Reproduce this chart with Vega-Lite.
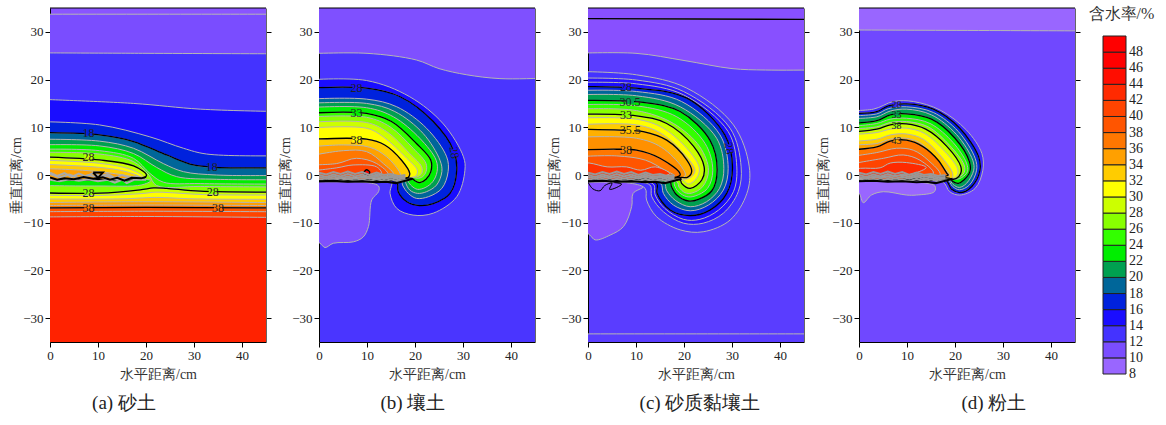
{"$schema":"https://vega.github.io/schema/vega-lite/v6.json","padding":{"left":9,"top":6,"right":0,"bottom":0},"background":"white","config":{"font":"Liberation Serif","axis":{"grid":false,"labelFontSize":13,"labelFont":"Liberation Serif","titleFont":"Liberation Serif","titleFontSize":14,"titleFontWeight":"normal","labelColor":"#222","titleColor":"#333","tickColor":"#000","domainColor":"#000","tickSize":5,"labelFlush":false,"labelOverlap":false,"zindex":1},"axisX":{"titlePadding":5},"axisY":{"titlePadding":-1},"title":{"font":"Liberation Serif","fontSize":19,"fontWeight":"normal","color":"#222","orient":"bottom","anchor":"middle","offset":13}},"resolve":{"scale":{"fill":"independent"}},"spacing":7,"datasets":{
"a":[
{"g":"10","x":-3,"y":33.7},{"g":"10","x":48,"y":33.7},{"g":"10","x":50,"y":33.7},{"g":"10","x":50,"y":-40},{"g":"10","x":-3,"y":-40},
{"g":"12","x":-3,"y":25.6},{"g":"12","x":20,"y":25.5},{"g":"12","x":48,"y":25.4},{"g":"12","x":50,"y":25.4},{"g":"12","x":50,"y":-40},{"g":"12","x":-3,"y":-40},
{"g":"14","x":-3,"y":15.9},{"g":"14","x":17.4,"y":15},{"g":"14","x":31.3,"y":13.8},{"g":"14","x":48,"y":13.3},{"g":"14","x":50,"y":13.3},{"g":"14","x":50,"y":-40},{"g":"14","x":-3,"y":-40},
{"g":"16","x":-3,"y":11.2},{"g":"16","x":10.3,"y":10.5},{"g":"16","x":20.8,"y":8},{"g":"16","x":27.8,"y":5.6},{"g":"16","x":32.6,"y":4.4},{"g":"16","x":48,"y":4},{"g":"16","x":50,"y":4},{"g":"16","x":50,"y":-40},{"g":"16","x":-3,"y":-40},
{"g":"18","x":-3,"y":8.9},{"g":"18","x":10.3,"y":8.4},{"g":"18","x":17.4,"y":7},{"g":"18","x":24.3,"y":4.2},{"g":"18","x":29.9,"y":2.1},{"g":"18","x":34.7,"y":1.6},{"g":"18","x":48,"y":1.5},{"g":"18","x":50,"y":1.5},{"g":"18","x":50,"y":-40},{"g":"18","x":-3,"y":-40},
{"g":"20","x":-3,"y":7.5},{"g":"20","x":10.3,"y":7.1},{"g":"20","x":17.4,"y":5.6},{"g":"20","x":23.6,"y":2.4},{"g":"20","x":27.8,"y":0.7},{"g":"20","x":34.7,"y":0},{"g":"20","x":48,"y":-0.1},{"g":"20","x":50,"y":-0.1},{"g":"20","x":50,"y":-40},{"g":"20","x":-3,"y":-40},
{"g":"22","x":-3,"y":6.3},{"g":"22","x":10.3,"y":6.1},{"g":"22","x":17.4,"y":4.5},{"g":"22","x":22.2,"y":1.6},{"g":"22","x":26.4,"y":-0.35},{"g":"22","x":34.7,"y":-0.9},{"g":"22","x":48,"y":-1},{"g":"22","x":50,"y":-1},{"g":"22","x":50,"y":-40},{"g":"22","x":-3,"y":-40},
{"g":"24","x":-3,"y":5.4},{"g":"24","x":10.3,"y":5.1},{"g":"24","x":17.4,"y":3.5},{"g":"24","x":20.8,"y":0.35},{"g":"24","x":23.6,"y":-1.5},{"g":"24","x":31.3,"y":-1.8},{"g":"24","x":48,"y":-1.9},{"g":"24","x":50,"y":-1.9},{"g":"24","x":50,"y":-40},{"g":"24","x":-3,"y":-40},
{"g":"26","x":-3,"y":4.75},{"g":"26","x":10.3,"y":4.4},{"g":"26","x":17.4,"y":2.8},{"g":"26","x":20.6,"y":0},{"g":"26","x":22.2,"y":-2.2},{"g":"26","x":31.3,"y":-2.4},{"g":"26","x":48,"y":-2.5},{"g":"26","x":50,"y":-2.5},{"g":"26","x":50,"y":-40},{"g":"26","x":-3,"y":-40},
{"g":"28","x":-3,"y":-3.7},{"g":"28","x":10.3,"y":-3.8},{"g":"28","x":18.8,"y":-3.1},{"g":"28","x":21.6,"y":-2.7},{"g":"28","x":24.3,"y":-2.8},{"g":"28","x":31.3,"y":-3.4},{"g":"28","x":48,"y":-3.6},{"g":"28","x":50,"y":-3.6},{"g":"28","x":50,"y":-40},{"g":"28","x":-3,"y":-40},
{"g":"30","x":-3,"y":-4.2},{"g":"30","x":10,"y":-4.3},{"g":"30","x":19,"y":-3.9},{"g":"30","x":22,"y":-3.6},{"g":"30","x":25,"y":-3.7},{"g":"30","x":32,"y":-4.1},{"g":"30","x":48,"y":-4.2},{"g":"30","x":50,"y":-4.2},{"g":"30","x":50,"y":-40},{"g":"30","x":-3,"y":-40},
{"g":"32","x":-3,"y":-5},{"g":"32","x":15,"y":-5},{"g":"32","x":22,"y":-4.7},{"g":"32","x":30,"y":-5},{"g":"32","x":48,"y":-5.1},{"g":"32","x":50,"y":-5.1},{"g":"32","x":50,"y":-40},{"g":"32","x":-3,"y":-40},
{"g":"34","x":-3,"y":-5.8},{"g":"34","x":20,"y":-5.6},{"g":"34","x":48,"y":-5.8},{"g":"34","x":50,"y":-5.8},{"g":"34","x":50,"y":-40},{"g":"34","x":-3,"y":-40},
{"g":"36","x":-3,"y":-6.4},{"g":"36","x":20,"y":-6.3},{"g":"36","x":48,"y":-6.4},{"g":"36","x":50,"y":-6.4},{"g":"36","x":50,"y":-40},{"g":"36","x":-3,"y":-40},
{"g":"38","x":-3,"y":-6.9},{"g":"38","x":20,"y":-6.8},{"g":"38","x":48,"y":-6.9},{"g":"38","x":50,"y":-6.9},{"g":"38","x":50,"y":-40},{"g":"38","x":-3,"y":-40},
{"g":"40","x":-3,"y":-7.7},{"g":"40","x":20,"y":-7.6},{"g":"40","x":48,"y":-7.7},{"g":"40","x":50,"y":-7.7},{"g":"40","x":50,"y":-40},{"g":"40","x":-3,"y":-40},
{"g":"42","x":-3,"y":-8.8},{"g":"42","x":20,"y":-8.7},{"g":"42","x":48,"y":-8.9},{"g":"42","x":50,"y":-8.9},{"g":"42","x":50,"y":-40},{"g":"42","x":-3,"y":-40},
{"g":"22b","x":-3,"y":-0.8},{"g":"22b","x":10,"y":-0.9},{"g":"22b","x":19,"y":-0.8},{"g":"22b","x":21,"y":-1.2},{"g":"22b","x":19,"y":-2.1},{"g":"22b","x":10,"y":-2.3},{"g":"22b","x":-3,"y":-2.2},
{"g":"28b","x":-3,"y":3.85},{"g":"28b","x":10.3,"y":3.15},{"g":"28b","x":17.4,"y":1.9},{"g":"28b","x":20.1,"y":0},{"g":"28b","x":19.4,"y":-0.7},{"g":"28b","x":10,"y":-1},{"g":"28b","x":-3,"y":-1},
{"g":"30b","x":-3,"y":3.15},{"g":"30b","x":10.3,"y":2.45},{"g":"30b","x":16.7,"y":1.2},{"g":"30b","x":19.4,"y":-0.35},{"g":"30b","x":18.5,"y":-0.8},{"g":"30b","x":-3,"y":-0.9},
{"g":"32b","x":-3,"y":2.3},{"g":"32b","x":10.3,"y":1.6},{"g":"32b","x":15.9,"y":0.7},{"g":"32b","x":18.8,"y":-0.5},{"g":"32b","x":17,"y":-0.8},{"g":"32b","x":-3,"y":-0.9},
{"g":"34b","x":-3,"y":1.4},{"g":"34b","x":6.8,"y":1},{"g":"34b","x":13,"y":0.35},{"g":"34b","x":17.4,"y":-0.5},{"g":"34b","x":15,"y":-0.8},{"g":"34b","x":-3,"y":-0.9}],
"na":[
{"g":"n1","x":0,"y":0.5},{"g":"n1","x":1.5,"y":-0.2},{"g":"n1","x":3,"y":0.4},{"g":"n1","x":4.5,"y":-0.4},{"g":"n1","x":6,"y":0.3},{"g":"n1","x":7.5,"y":-0.3},{"g":"n1","x":9,"y":0.4},{"g":"n1","x":10.5,"y":-0.2},{"g":"n1","x":12,"y":0.2},{"g":"n1","x":13.5,"y":-0.6},{"g":"n1","x":15,"y":0},{"g":"n1","x":16.5,"y":-0.5},{"g":"n1","x":18,"y":-0.3},{"g":"n1","x":19.5,"y":-0.6},
{"g":"n3","x":0,"y":-1},{"g":"n3","x":2,"y":-1.3},{"g":"n3","x":4,"y":-0.9},{"g":"n3","x":6,"y":-1.2},{"g":"n3","x":8,"y":-0.9},{"g":"n3","x":10,"y":-1.3},{"g":"n3","x":12,"y":-1},{"g":"n3","x":13.5,"y":-1.6},{"g":"n3","x":15,"y":-1},{"g":"n3","x":16,"y":-1.7},{"g":"n3","x":17.5,"y":-1},{"g":"n3","x":20,"y":-1},
{"g":"n4","x":0,"y":0.2},{"g":"n4","x":2,"y":-0.5},{"g":"n4","x":4,"y":0.1},{"g":"n4","x":6,"y":-0.6},{"g":"n4","x":8,"y":0},{"g":"n4","x":10,"y":-0.5},{"g":"n4","x":12,"y":-0.2},{"g":"n4","x":14,"y":-1},{"g":"n4","x":16,"y":-0.8},{"g":"n4","x":18,"y":-0.6},
{"g":"k1","x":0,"y":-0.5},{"g":"k1","x":1.5,"y":-1},{"g":"k1","x":3,"y":-0.7},{"g":"k1","x":5,"y":-0.9},{"g":"k1","x":7,"y":-0.4},{"g":"k1","x":9,"y":-0.8},{"g":"k1","x":11,"y":-0.5},{"g":"k1","x":12.5,"y":-1},{"g":"k1","x":14,"y":-0.6},{"g":"k1","x":15.5,"y":-1.2},{"g":"k1","x":17,"y":-0.6},{"g":"k1","x":19,"y":-0.7},{"g":"k1","x":20,"y":-0.4},
{"g":"k2","x":9,"y":0.5},{"g":"k2","x":11,"y":0.5},{"g":"k2","x":10,"y":-0.6},{"g":"k2","x":9,"y":0.5}],
"n":[
{"g":"n1","x":0,"y":0.5},{"g":"n1","x":1.5,"y":0.1},{"g":"n1","x":3,"y":0.6},{"g":"n1","x":4.5,"y":0.2},{"g":"n1","x":6,"y":0.7},{"g":"n1","x":7.5,"y":0.2},{"g":"n1","x":9,"y":0.6},{"g":"n1","x":10.5,"y":0},{"g":"n1","x":12,"y":0.5},{"g":"n1","x":13.5,"y":0},{"g":"n1","x":15,"y":0.2},{"g":"n1","x":16.5,"y":-0.2},{"g":"n1","x":18,"y":0},
{"g":"n2","x":0,"y":0},{"g":"n2","x":1.5,"y":-0.4},{"g":"n2","x":3,"y":0.1},{"g":"n2","x":4.5,"y":-0.3},{"g":"n2","x":6,"y":0.2},{"g":"n2","x":7.5,"y":-0.3},{"g":"n2","x":9,"y":0.1},{"g":"n2","x":10.5,"y":-0.4},{"g":"n2","x":12,"y":0.1},{"g":"n2","x":13.5,"y":-0.4},{"g":"n2","x":15,"y":-0.2},{"g":"n2","x":16.5,"y":-0.5},{"g":"n2","x":18,"y":-0.4},
{"g":"n3","x":0,"y":-0.4},{"g":"n3","x":1.5,"y":-0.8},{"g":"n3","x":3,"y":-0.3},{"g":"n3","x":4.5,"y":-0.7},{"g":"n3","x":6,"y":-0.3},{"g":"n3","x":7.5,"y":-0.8},{"g":"n3","x":9,"y":-0.4},{"g":"n3","x":10.5,"y":-0.8},{"g":"n3","x":12,"y":-0.3},{"g":"n3","x":13.5,"y":-0.9},{"g":"n3","x":15,"y":-0.5},{"g":"n3","x":16.5,"y":-0.9},{"g":"n3","x":18,"y":-0.7},
{"g":"n4","x":0,"y":-0.9},{"g":"n4","x":1.5,"y":-1.2},{"g":"n4","x":3,"y":-0.8},{"g":"n4","x":4.5,"y":-1.2},{"g":"n4","x":6,"y":-0.8},{"g":"n4","x":7.5,"y":-1.2},{"g":"n4","x":9,"y":-0.9},{"g":"n4","x":10.5,"y":-1.3},{"g":"n4","x":12,"y":-0.8},{"g":"n4","x":13.5,"y":-1.3},{"g":"n4","x":15,"y":-0.9},{"g":"n4","x":16.5,"y":-1.3},{"g":"n4","x":19,"y":-1},
{"g":"k1","x":0,"y":-1.3},{"g":"k1","x":3,"y":-1.2},{"g":"k1","x":6,"y":-1.4},{"g":"k1","x":9,"y":-1.3},{"g":"k1","x":12,"y":-1.5},{"g":"k1","x":14,"y":-1.4},{"g":"k1","x":16,"y":-1.7},{"g":"k1","x":18,"y":-1.2},{"g":"k1","x":19.5,"y":-0.8}],
"b":[
{"g":"t","x":-3,"y":25.4},{"g":"t","x":10,"y":25.5},{"g":"t","x":20.3,"y":24.1},{"g":"t","x":25,"y":22.3},{"g":"t","x":30.8,"y":21},{"g":"t","x":37.7,"y":20.2},{"g":"t","x":48,"y":20.3},{"g":"t","x":50,"y":20.3},{"g":"t","x":50,"y":40},{"g":"t","x":-3,"y":40},
{"g":"p","x":-3,"y":-1.2},{"g":"p","x":8.5,"y":-1.4},{"g":"p","x":12.4,"y":-2.3},{"g":"p","x":12.4,"y":-3.5},{"g":"p","x":11,"y":-5.2},{"g":"p","x":10.3,"y":-10.8},{"g":"p","x":9.2,"y":-13},{"g":"p","x":7.2,"y":-14},{"g":"p","x":3,"y":-14.3},{"g":"p","x":1.25,"y":-15.2},{"g":"p","x":0.2,"y":-14.3},{"g":"p","x":-3,"y":-13},
{"g":"14","x":-3,"y":19.9},{"g":"14","x":9.9,"y":19.8},{"g":"14","x":18.9,"y":16.4},{"g":"14","x":25.9,"y":10.7},{"g":"14","x":30.1,"y":3.8},{"g":"14","x":30.4,"y":1},{"g":"14","x":28.7,"y":-4.55},{"g":"14","x":23.8,"y":-8},{"g":"14","x":19.6,"y":-8.4},{"g":"14","x":16.2,"y":-7},{"g":"14","x":14.8,"y":-3.85},{"g":"14","x":15.1,"y":-1.4},{"g":"14","x":12,"y":-1.4},{"g":"14","x":-3,"y":-1.4},
{"g":"16","x":-3,"y":18.2},{"g":"16","x":9.9,"y":18.2},{"g":"16","x":16.9,"y":16.4},{"g":"16","x":23.8,"y":11.2},{"g":"16","x":28,"y":5.2},{"g":"16","x":28.7,"y":1},{"g":"16","x":27.3,"y":-3.85},{"g":"16","x":23.8,"y":-6},{"g":"16","x":21,"y":-6.4},{"g":"16","x":18.3,"y":-5.6},{"g":"16","x":16.5,"y":-3.5},{"g":"16","x":16.2,"y":-1.4},{"g":"16","x":12,"y":-1.4},{"g":"16","x":-3,"y":-1.4},
{"g":"18","x":-3,"y":15.9},{"g":"18","x":9.9,"y":15.9},{"g":"18","x":16.2,"y":14.3},{"g":"18","x":22.4,"y":9.8},{"g":"18","x":26.6,"y":3.8},{"g":"18","x":26.9,"y":0.7},{"g":"18","x":25.6,"y":-2.8},{"g":"18","x":22.8,"y":-4.55},{"g":"18","x":20.3,"y":-4.9},{"g":"18","x":18.6,"y":-3.85},{"g":"18","x":17.4,"y":-2.1},{"g":"18","x":17.2,"y":-1.2},{"g":"18","x":12,"y":-1.3},{"g":"18","x":-3,"y":-1.3},
{"g":"20","x":-3,"y":15},{"g":"20","x":9.9,"y":15},{"g":"20","x":15.8,"y":13.3},{"g":"20","x":21.7,"y":8.7},{"g":"20","x":25.2,"y":3.1},{"g":"20","x":25.6,"y":0.7},{"g":"20","x":24.5,"y":-2.1},{"g":"20","x":22.4,"y":-3.5},{"g":"20","x":20.5,"y":-3.85},{"g":"20","x":18.9,"y":-3.15},{"g":"20","x":18.1,"y":-1.75},{"g":"20","x":17.9,"y":-1.05},{"g":"20","x":12,"y":-1.2},{"g":"20","x":-3,"y":-1.2},
{"g":"22","x":-3,"y":14.1},{"g":"22","x":9.9,"y":14.1},{"g":"22","x":15.5,"y":12.2},{"g":"22","x":21,"y":7.7},{"g":"22","x":24.4,"y":3.1},{"g":"22","x":24.6,"y":0.7},{"g":"22","x":23.7,"y":-1.4},{"g":"22","x":22.1,"y":-2.65},{"g":"22","x":20.5,"y":-3},{"g":"22","x":19.3,"y":-2.3},{"g":"22","x":18.6,"y":-1.4},{"g":"22","x":18.5,"y":-0.9},{"g":"22","x":12,"y":-1.1},{"g":"22","x":-3,"y":-1.1},
{"g":"24","x":-3,"y":12.9},{"g":"24","x":9.9,"y":12.9},{"g":"24","x":15.1,"y":11.2},{"g":"24","x":20.3,"y":6.6},{"g":"24","x":23.3,"y":3.1},{"g":"24","x":23.3,"y":0.7},{"g":"24","x":22.3,"y":-0.9},{"g":"24","x":21,"y":-1.6},{"g":"24","x":20,"y":-1.2},{"g":"24","x":19.3,"y":-0.7},{"g":"24","x":12,"y":-1},{"g":"24","x":-3,"y":-1},
{"g":"26","x":-3,"y":12.1},{"g":"26","x":9.9,"y":12.1},{"g":"26","x":14.8,"y":10.1},{"g":"26","x":19.6,"y":5.6},{"g":"26","x":22.3,"y":2.4},{"g":"26","x":22.3,"y":0.7},{"g":"26","x":21.6,"y":-0.35},{"g":"26","x":20.5,"y":-0.7},{"g":"26","x":19.6,"y":-0.5},{"g":"26","x":12,"y":-1},{"g":"26","x":-3,"y":-1},
{"g":"28","x":-3,"y":11},{"g":"28","x":9.9,"y":11},{"g":"28","x":14.1,"y":9.1},{"g":"28","x":18.9,"y":4.5},{"g":"28","x":21.4,"y":1.7},{"g":"28","x":21.4,"y":0.35},{"g":"28","x":20.5,"y":-0.35},{"g":"28","x":19.6,"y":-0.35},{"g":"28","x":12,"y":-1},{"g":"28","x":-3,"y":-1},
{"g":"30","x":-3,"y":9.8},{"g":"30","x":9.9,"y":9.8},{"g":"30","x":13.4,"y":8},{"g":"30","x":18.3,"y":3.5},{"g":"30","x":20.5,"y":1},{"g":"30","x":20.2,"y":-0.2},{"g":"30","x":19.3,"y":-0.5},{"g":"30","x":12,"y":-1},{"g":"30","x":-3,"y":-1},
{"g":"32","x":-3,"y":7.4},{"g":"32","x":9.9,"y":7.5},{"g":"32","x":13.7,"y":6.3},{"g":"32","x":17.2,"y":3.1},{"g":"32","x":18.9,"y":0.35},{"g":"32","x":18.6,"y":-0.5},{"g":"32","x":12,"y":-1},{"g":"32","x":-3,"y":-1},
{"g":"34","x":-3,"y":5.8},{"g":"34","x":5.1,"y":6.3},{"g":"34","x":10.6,"y":5.8},{"g":"34","x":14.1,"y":3.8},{"g":"34","x":16.9,"y":0.35},{"g":"34","x":16.9,"y":-0.35},{"g":"34","x":-3,"y":-1},
{"g":"36","x":-3,"y":3.8},{"g":"36","x":5.1,"y":5.1},{"g":"36","x":9.9,"y":4.9},{"g":"36","x":13.4,"y":2.4},{"g":"36","x":15.5,"y":0},{"g":"36","x":-3,"y":-1},
{"g":"38","x":-3,"y":2.1},{"g":"38","x":3.7,"y":2.4},{"g":"38","x":7.8,"y":3.5},{"g":"38","x":12,"y":2.4},{"g":"38","x":14.4,"y":0},{"g":"38","x":-3,"y":-1},
{"g":"40","x":-3,"y":0.7},{"g":"40","x":3.7,"y":1.5},{"g":"40","x":7.1,"y":2.1},{"g":"40","x":12,"y":1.7},{"g":"40","x":13,"y":0.35},{"g":"40","x":8,"y":-0.5},{"g":"40","x":-3,"y":-1},
{"g":"46","x":9.3,"y":0.5},{"g":"46","x":9.9,"y":1.1},{"g":"46","x":10.6,"y":0.5},{"g":"46","x":9.9,"y":-0.1},{"g":"46","x":9.3,"y":0.5}],
"c":[
{"g":"t","x":-3,"y":25.5},{"g":"t","x":10,"y":25.5},{"g":"t","x":20,"y":24},{"g":"t","x":30,"y":22.3},{"g":"t","x":37,"y":22},{"g":"t","x":48,"y":22},{"g":"t","x":50,"y":22},{"g":"t","x":50,"y":40},{"g":"t","x":-3,"y":40},
{"g":"kt","x":-3,"y":32.8},{"g":"kt","x":48,"y":32.6},{"g":"kt","x":50,"y":32.6},{"g":"kt","x":50,"y":40},{"g":"kt","x":-3,"y":40},
{"g":"gb","x":-3,"y":-33.3},{"g":"gb","x":48,"y":-33.3},{"g":"gb","x":50,"y":-33.3},{"g":"gb","x":50,"y":-40},{"g":"gb","x":-3,"y":-40},
{"g":"p","x":-3,"y":-1.2},{"g":"p","x":8,"y":-1.4},{"g":"p","x":11.5,"y":-2.45},{"g":"p","x":9.4,"y":-3.85},{"g":"p","x":9.1,"y":-6.6},{"g":"p","x":7.4,"y":-10.8},{"g":"p","x":4.6,"y":-12.6},{"g":"p","x":1.5,"y":-13.6},{"g":"p","x":0.4,"y":-12.6},{"g":"p","x":-3,"y":-10},
{"g":"12","x":-3,"y":21.7},{"g":"12","x":10.1,"y":21},{"g":"12","x":20.6,"y":18.2},{"g":"12","x":30.3,"y":10.5},{"g":"12","x":33.6,"y":1.7},{"g":"12","x":33.1,"y":-3.85},{"g":"12","x":29.6,"y":-9.45},{"g":"12","x":24,"y":-11.9},{"g":"12","x":19.2,"y":-11.5},{"g":"12","x":14.3,"y":-8.75},{"g":"12","x":12.2,"y":-5.25},{"g":"12","x":11.9,"y":-2.8},{"g":"12","x":8,"y":-1.6},{"g":"12","x":-3,"y":-1.5},
{"g":"14","x":-3,"y":20.3},{"g":"14","x":10.1,"y":19.9},{"g":"14","x":19.9,"y":17.5},{"g":"14","x":29.6,"y":9.8},{"g":"14","x":31.9,"y":1.7},{"g":"14","x":31.3,"y":-3.5},{"g":"14","x":28.2,"y":-8},{"g":"14","x":24,"y":-10.1},{"g":"14","x":19.9,"y":-10.1},{"g":"14","x":15.7,"y":-7.7},{"g":"14","x":13.3,"y":-4.55},{"g":"14","x":12.9,"y":-2.1},{"g":"14","x":8,"y":-1.5},{"g":"14","x":-3,"y":-1.5},
{"g":"15","x":-3,"y":19.4},{"g":"15","x":10.1,"y":19.1},{"g":"15","x":19.9,"y":16.8},{"g":"15","x":29.2,"y":9.1},{"g":"15","x":31,"y":1.7},{"g":"15","x":30.3,"y":-3.5},{"g":"15","x":27.2,"y":-7.35},{"g":"15","x":23.3,"y":-9.3},{"g":"15","x":19.9,"y":-9.3},{"g":"15","x":16,"y":-7},{"g":"15","x":14,"y":-4.2},{"g":"15","x":13.6,"y":-1.9},{"g":"15","x":8,"y":-1.5},{"g":"15","x":-3,"y":-1.5},
{"g":"16","x":-3,"y":18.5},{"g":"16","x":10.1,"y":18.2},{"g":"16","x":20.6,"y":16.1},{"g":"16","x":28.5,"y":8.4},{"g":"16","x":30.1,"y":1.7},{"g":"16","x":28.9,"y":-3.85},{"g":"16","x":25.4,"y":-7.35},{"g":"16","x":21.3,"y":-8.5},{"g":"16","x":17.1,"y":-7.35},{"g":"16","x":14.4,"y":-3.85},{"g":"16","x":14.3,"y":-1.75},{"g":"16","x":8,"y":-1.4},{"g":"16","x":-3,"y":-1.4},
{"g":"18","x":-3,"y":17.7},{"g":"18","x":10.1,"y":17.5},{"g":"18","x":19.5,"y":15.4},{"g":"18","x":27.5,"y":8.4},{"g":"18","x":29.2,"y":1.4},{"g":"18","x":28.2,"y":-3.15},{"g":"18","x":25.1,"y":-6.3},{"g":"18","x":21.3,"y":-7.5},{"g":"18","x":17.8,"y":-6.3},{"g":"18","x":15.7,"y":-3.85},{"g":"18","x":15.1,"y":-1.75},{"g":"18","x":8,"y":-1.4},{"g":"18","x":-3,"y":-1.4},
{"g":"20","x":-3,"y":16.8},{"g":"20","x":10.1,"y":16.6},{"g":"20","x":19.2,"y":14.3},{"g":"20","x":26.8,"y":7.7},{"g":"20","x":28.3,"y":1.4},{"g":"20","x":27.4,"y":-2.8},{"g":"20","x":24.7,"y":-5.6},{"g":"20","x":21.3,"y":-6.65},{"g":"20","x":18.3,"y":-5.4},{"g":"20","x":16.4,"y":-3.3},{"g":"20","x":15.8,"y":-1.6},{"g":"20","x":8,"y":-1.3},{"g":"20","x":-3,"y":-1.3},
{"g":"22","x":-3,"y":15.6},{"g":"22","x":11.5,"y":15.2},{"g":"22","x":19.2,"y":13.3},{"g":"22","x":25.4,"y":7.3},{"g":"22","x":26.9,"y":1},{"g":"22","x":25.8,"y":-3.3},{"g":"22","x":23,"y":-5.1},{"g":"22","x":20.9,"y":-5.45},{"g":"22","x":18.5,"y":-4.2},{"g":"22","x":17.4,"y":-2.45},{"g":"22","x":17,"y":-1.2},{"g":"22","x":8,"y":-1.2},{"g":"22","x":-3,"y":-1.2},
{"g":"24","x":-3,"y":14.7},{"g":"24","x":10.1,"y":14.5},{"g":"24","x":18.5,"y":12.2},{"g":"24","x":24.4,"y":6.6},{"g":"24","x":26,"y":1},{"g":"24","x":24.9,"y":-2.8},{"g":"24","x":22.3,"y":-4.4},{"g":"24","x":20.6,"y":-4.55},{"g":"24","x":18.8,"y":-3.5},{"g":"24","x":18,"y":-2.1},{"g":"24","x":17.8,"y":-1.05},{"g":"24","x":8,"y":-1.1},{"g":"24","x":-3,"y":-1.1},
{"g":"26","x":-3,"y":13.8},{"g":"26","x":10.1,"y":13.5},{"g":"26","x":17.8,"y":10.8},{"g":"26","x":23.3,"y":5.9},{"g":"26","x":25.1,"y":1},{"g":"26","x":23.9,"y":-2.45},{"g":"26","x":21.6,"y":-3.8},{"g":"26","x":20.2,"y":-3.7},{"g":"26","x":19,"y":-2.6},{"g":"26","x":18.5,"y":-1.4},{"g":"26","x":8,"y":-1},{"g":"26","x":-3,"y":-1},
{"g":"28","x":-3,"y":12.7},{"g":"28","x":10.1,"y":12.4},{"g":"28","x":16.4,"y":10.8},{"g":"28","x":22,"y":6},{"g":"28","x":24.2,"y":1.7},{"g":"28","x":23.7,"y":-1.05},{"g":"28","x":21.3,"y":-2.8},{"g":"28","x":19.5,"y":-1.75},{"g":"28","x":19.2,"y":-1.05},{"g":"28","x":8,"y":-1},{"g":"28","x":-3,"y":-1},
{"g":"30","x":-3,"y":11.9},{"g":"30","x":10.1,"y":11.7},{"g":"30","x":15.7,"y":9.8},{"g":"30","x":21.1,"y":5},{"g":"30","x":23.2,"y":1.4},{"g":"30","x":22.6,"y":-0.7},{"g":"30","x":20.9,"y":-1.9},{"g":"30","x":19.7,"y":-1.05},{"g":"30","x":8,"y":-1},{"g":"30","x":-3,"y":-1},
{"g":"32","x":-3,"y":10.5},{"g":"32","x":10.1,"y":10.5},{"g":"32","x":15.3,"y":8.7},{"g":"32","x":20.2,"y":4.2},{"g":"32","x":22.3,"y":1},{"g":"32","x":21.6,"y":-0.35},{"g":"32","x":20.2,"y":-0.9},{"g":"32","x":19.2,"y":-0.7},{"g":"32","x":8,"y":-1},{"g":"32","x":-3,"y":-1},
{"g":"34","x":-3,"y":9.6},{"g":"34","x":6.7,"y":9.4},{"g":"34","x":11.5,"y":9.1},{"g":"34","x":16.4,"y":7.3},{"g":"34","x":20.6,"y":3.1},{"g":"34","x":21.6,"y":0.7},{"g":"34","x":20.7,"y":-0.5},{"g":"34","x":19.5,"y":-0.5},{"g":"34","x":8,"y":-1},{"g":"34","x":-3,"y":-1},
{"g":"36","x":-3,"y":7.9},{"g":"36","x":10.1,"y":7.7},{"g":"36","x":15.3,"y":5.8},{"g":"36","x":19.5,"y":1.7},{"g":"36","x":20.2,"y":-0.2},{"g":"36","x":8,"y":-1},{"g":"36","x":-3,"y":-1},
{"g":"38","x":-3,"y":5.2},{"g":"38","x":6,"y":5.4},{"g":"38","x":10.1,"y":5.2},{"g":"38","x":15,"y":3.5},{"g":"38","x":19.2,"y":0},{"g":"38","x":8,"y":-1},{"g":"38","x":-3,"y":-1},
{"g":"39","x":-3,"y":3.8},{"g":"39","x":6,"y":4},{"g":"39","x":12,"y":3.1},{"g":"39","x":16,"y":1},{"g":"39","x":18,"y":-0.2},{"g":"39","x":8,"y":-1},{"g":"39","x":-3,"y":-1},
{"g":"40","x":-3,"y":2.5},{"g":"40","x":0.3,"y":2.5},{"g":"40","x":4,"y":1.7},{"g":"40","x":8,"y":1.7},{"g":"40","x":11,"y":1},{"g":"40","x":14,"y":1.7},{"g":"40","x":17,"y":0.3},{"g":"40","x":8,"y":-1},{"g":"40","x":-3,"y":-1}],
"d":[
{"g":"t","x":-3,"y":30.4},{"g":"t","x":48,"y":30.2},{"g":"t","x":50,"y":30.2},{"g":"t","x":50,"y":40},{"g":"t","x":-3,"y":40},
{"g":"p","x":-3,"y":-1},{"g":"p","x":8,"y":-1.2},{"g":"p","x":15.8,"y":-2.3},{"g":"p","x":15.7,"y":-3.5},{"g":"p","x":12,"y":-4.2},{"g":"p","x":9.9,"y":-4.2},{"g":"p","x":5.1,"y":-3.5},{"g":"p","x":2.6,"y":-4.2},{"g":"p","x":0.9,"y":-5.8},{"g":"p","x":0,"y":-3.8},{"g":"p","x":-3,"y":-2},
{"g":"14","x":-3,"y":13.5},{"g":"14","x":3,"y":13.8},{"g":"14","x":7.2,"y":15.4},{"g":"14","x":11.3,"y":15.4},{"g":"14","x":16.9,"y":13.6},{"g":"14","x":22.4,"y":9.4},{"g":"14","x":25.6,"y":4.5},{"g":"14","x":25.8,"y":1},{"g":"14","x":24.2,"y":-2.8},{"g":"14","x":21,"y":-4.2},{"g":"14","x":18.9,"y":-3.5},{"g":"14","x":17.4,"y":-1.4},{"g":"14","x":8,"y":-1},{"g":"14","x":-3,"y":-1},
{"g":"16","x":-3,"y":12.9},{"g":"16","x":3.7,"y":13.3},{"g":"16","x":6.1,"y":14.5},{"g":"16","x":9.9,"y":14.9},{"g":"16","x":15.5,"y":13.8},{"g":"16","x":21,"y":9.8},{"g":"16","x":24.9,"y":3.9},{"g":"16","x":25.2,"y":1},{"g":"16","x":23.5,"y":-2.4},{"g":"16","x":21,"y":-3.7},{"g":"16","x":19.3,"y":-3},{"g":"16","x":17.9,"y":-0.9},{"g":"16","x":8,"y":-1},{"g":"16","x":-3,"y":-1},
{"g":"18","x":-3,"y":12.4},{"g":"18","x":3.7,"y":12.8},{"g":"18","x":6.1,"y":13.9},{"g":"18","x":9.9,"y":14.3},{"g":"18","x":15.5,"y":13.1},{"g":"18","x":20.7,"y":9.1},{"g":"18","x":24.2,"y":3.5},{"g":"18","x":24.5,"y":1},{"g":"18","x":23,"y":-2.1},{"g":"18","x":20.9,"y":-3.1},{"g":"18","x":19.5,"y":-2.4},{"g":"18","x":18.3,"y":-0.9},{"g":"18","x":8,"y":-1},{"g":"18","x":-3,"y":-1},
{"g":"20","x":-3,"y":11.8},{"g":"20","x":3.7,"y":12.2},{"g":"20","x":6.5,"y":13.4},{"g":"20","x":9.9,"y":13.8},{"g":"20","x":15.1,"y":12.6},{"g":"20","x":20.3,"y":8.5},{"g":"20","x":23.7,"y":3.1},{"g":"20","x":23.9,"y":1},{"g":"20","x":22.4,"y":-1.75},{"g":"20","x":20.9,"y":-2.6},{"g":"20","x":19.6,"y":-2},{"g":"20","x":18.6,"y":-0.85},{"g":"20","x":8,"y":-1},{"g":"20","x":-3,"y":-1},
{"g":"22","x":-3,"y":10.8},{"g":"22","x":3.7,"y":11.4},{"g":"22","x":6.5,"y":12.6},{"g":"22","x":9.9,"y":12.8},{"g":"22","x":15.1,"y":11.7},{"g":"22","x":20,"y":7.7},{"g":"22","x":23,"y":2.8},{"g":"22","x":23.1,"y":0.7},{"g":"22","x":21.9,"y":-1},{"g":"22","x":20.7,"y":-1.75},{"g":"22","x":19.6,"y":-1.4},{"g":"22","x":18.9,"y":-0.7},{"g":"22","x":8,"y":-1},{"g":"22","x":-3,"y":-1},
{"g":"24","x":-3,"y":10.1},{"g":"24","x":3.7,"y":10.8},{"g":"24","x":6.5,"y":11.7},{"g":"24","x":9.9,"y":11.9},{"g":"24","x":14.8,"y":10.8},{"g":"24","x":19.6,"y":6.8},{"g":"24","x":22.4,"y":2.5},{"g":"24","x":22.6,"y":0.7},{"g":"24","x":21.4,"y":-0.55},{"g":"24","x":20.3,"y":-0.9},{"g":"24","x":19.3,"y":-0.7},{"g":"24","x":8,"y":-1},{"g":"24","x":-3,"y":-1},
{"g":"26","x":-3,"y":9.6},{"g":"26","x":3.7,"y":10.1},{"g":"26","x":6.5,"y":11},{"g":"26","x":9.9,"y":11.2},{"g":"26","x":14.4,"y":10.1},{"g":"26","x":18.9,"y":6.2},{"g":"26","x":21.9,"y":2.1},{"g":"26","x":21.9,"y":0.5},{"g":"26","x":20.9,"y":-0.35},{"g":"26","x":19.6,"y":-0.5},{"g":"26","x":8,"y":-1},{"g":"26","x":-3,"y":-1},
{"g":"28","x":-3,"y":8.9},{"g":"28","x":3.7,"y":9.6},{"g":"28","x":6.5,"y":10.5},{"g":"28","x":9.9,"y":10.7},{"g":"28","x":13.9,"y":9.6},{"g":"28","x":18.3,"y":6},{"g":"28","x":21.2,"y":1.8},{"g":"28","x":21.2,"y":0.35},{"g":"28","x":20.3,"y":-0.7},{"g":"28","x":8,"y":-1},{"g":"28","x":-3,"y":-1},
{"g":"30","x":-3,"y":8.4},{"g":"30","x":3.7,"y":8.9},{"g":"30","x":6.5,"y":9.6},{"g":"30","x":9.9,"y":9.8},{"g":"30","x":13.7,"y":8.7},{"g":"30","x":17.9,"y":4.9},{"g":"30","x":20.5,"y":1.4},{"g":"30","x":20.5,"y":0},{"g":"30","x":19.6,"y":-0.7},{"g":"30","x":8,"y":-1},{"g":"30","x":-3,"y":-1},
{"g":"32","x":-3,"y":7},{"g":"32","x":3.7,"y":7.5},{"g":"32","x":6.5,"y":8.4},{"g":"32","x":9.9,"y":8.6},{"g":"32","x":13.4,"y":7.5},{"g":"32","x":17.2,"y":3.8},{"g":"32","x":19.5,"y":0.35},{"g":"32","x":19.3,"y":-0.7},{"g":"32","x":8,"y":-1},{"g":"32","x":-3,"y":-1},
{"g":"34","x":-3,"y":6.3},{"g":"34","x":3.7,"y":6.6},{"g":"34","x":6.5,"y":7.5},{"g":"34","x":9.9,"y":7.7},{"g":"34","x":13.1,"y":6.5},{"g":"34","x":16.5,"y":2.8},{"g":"34","x":18.8,"y":-0.3},{"g":"34","x":8,"y":-1},{"g":"34","x":-3,"y":-1},
{"g":"36","x":-3,"y":5.2},{"g":"36","x":3.7,"y":5.9},{"g":"36","x":6.5,"y":7.1},{"g":"36","x":9.9,"y":7.3},{"g":"36","x":13.4,"y":5.9},{"g":"36","x":16.5,"y":3.1},{"g":"36","x":18.3,"y":0.35},{"g":"36","x":18.6,"y":0},{"g":"36","x":8,"y":-1},{"g":"36","x":-3,"y":-1},
{"g":"38","x":-3,"y":3.7},{"g":"38","x":3.7,"y":4.7},{"g":"38","x":7.8,"y":5.6},{"g":"38","x":11.3,"y":5.2},{"g":"38","x":14.4,"y":3.1},{"g":"38","x":16.9,"y":0},{"g":"38","x":8,"y":-1},{"g":"38","x":-3,"y":-1},
{"g":"40","x":-3,"y":2.1},{"g":"40","x":5.1,"y":3.5},{"g":"40","x":9.2,"y":4.2},{"g":"40","x":12.7,"y":3.1},{"g":"40","x":15.5,"y":0.35},{"g":"40","x":8,"y":-1},{"g":"40","x":-3,"y":-1},
{"g":"42","x":-3,"y":0.8},{"g":"42","x":0.3,"y":1.4},{"g":"42","x":4.4,"y":1.5},{"g":"42","x":6.5,"y":2.5},{"g":"42","x":9.9,"y":2.6},{"g":"42","x":14,"y":1.6},{"g":"42","x":11.3,"y":0.3},{"g":"42","x":5.1,"y":-0.3},{"g":"42","x":-3,"y":-1}]
},
"hconcat":[{"spacing":6,"resolve":{"scale":{"fill":"independent"}},"hconcat":[
{"width":216,"height":334,"view":{"fill":"#8a55ff","stroke":null},"title":{"text":"(a) 砂土","dx":-34},"resolve":{"axis":{"y":"independent"}},"layer":[
{"encoding":{"x":{"field":"x","type":"quantitative","scale":{"domain":[0,45],"nice":false},"axis":{"values":[0,10,20,30,40],"title":"水平距离/cm"}},"y":{"field":"y","type":"quantitative","scale":{"domain":[-35,35],"nice":false},"axis":{"values":[-30,-20,-10,0,10,20,30],"title":"垂直距离/cm"}},"fill":{"field":"g","type":"nominal","legend":null,"scale":{"domain":["10","12","14","16","18","20","22","24","26","28","30","32","34","36","38","40","42","22b","28b","30b","32b","34b"],"range":["#7a4dff","#4433ff","#1a0dff","#0022dd","#006699","#00a050","#00ee00","#33ff00","#88ff00","#ccff00","#ffff00","#ffcc00","#ffa000","#ff7700","#ff5500","#ff4400","#ff2200","#00ee00","#ccff00","#ffff00","#ffcc00","#ffa000"]}}},"layer":[
{"data":{"name":"a"},"transform":[{"window":[{"op":"row_number","as":"o"}]}],"mark":{"type":"line","clip":true,"interpolate":"catmull-rom","stroke":"#b5b5b5","strokeWidth":1},"encoding":{"order":{"field":"o"}}},
{"data":{"name":"a"},"transform":[{"window":[{"op":"row_number","as":"o"}]},{"filter":"indexof(['18','28','38','28b'],datum.g)>=0"}],"mark":{"type":"line","clip":true,"interpolate":"catmull-rom","stroke":"#000","strokeWidth":1.3},"encoding":{"order":{"field":"o"},"detail":{"field":"g"},"fill":{"value":null}}},
{"data":{"name":"na"},"transform":[{"window":[{"op":"row_number","as":"o"}]}],"mark":{"type":"line","clip":true,"strokeWidth":2},"encoding":{"order":{"field":"o"},"detail":{"field":"g"},"fill":{"value":null},"stroke":{"condition":{"test":"indexof(datum.g,'k')==0","value":"#000"},"value":"#aaa"}}},
{"data":{"values":[{"x":8,"y":8.7,"t":"18","g":"16"},{"x":8,"y":3.7,"t":"28","g":"28b"},{"x":8,"y":-3.7,"t":"28","g":"26"},{"x":8,"y":-6.85,"t":"38","g":"36"},{"x":33.7,"y":1.6,"t":"18","g":"16"},{"x":33.9,"y":-3.5,"t":"28","g":"26"},{"x":35,"y":-6.85,"t":"38","g":"36"}]},"mark":{"type":"point","filled":true,"opacity":1,"shape":"M-1,-.55H1V.55H-1Z","size":64,"strokeWidth":0}},
{"data":{"values":[{"x":8,"y":8.7,"t":"18"},{"x":8,"y":3.7,"t":"28"},{"x":8,"y":-3.7,"t":"28"},{"x":8,"y":-6.85,"t":"38"},{"x":33.7,"y":1.6,"t":"18"},{"x":33.9,"y":-3.5,"t":"28"},{"x":35,"y":-6.85,"t":"38"}]},"mark":{"type":"text","fontSize":12,"baseline":"middle"},"encoding":{"text":{"field":"t"},"fill":{"value":"#222"}}},
{"data":{"values":[{"x":0,"y":35}]},"mark":{"type":"rule","stroke":"#000","strokeWidth":1},"encoding":{"x":{"value":0},"x2":{"value":216},"fill":{"value":null}}}]},
{"data":{"values":[{"x":0,"y":0}]},"mark":{"type":"point","opacity":0},"encoding":{"x":{"field":"x","type":"quantitative"},"y":{"field":"y","type":"quantitative","scale":{"domain":[-35,35],"nice":false},"axis":{"orient":"right","labels":false,"values":[-30,-20,-10,0,10,20,30],"title":null,"domainColor":"#666"}}}}]},
{"width":216,"height":334,"view":{"fill":"#4a35ff","stroke":null},"title":{"text":"(b) 壤土","dx":-14},"resolve":{"axis":{"y":"independent"}},"layer":[
{"encoding":{"x":{"field":"x","type":"quantitative","scale":{"domain":[0,45],"nice":false},"axis":{"values":[0,10,20,30,40],"title":"水平距离/cm"}},"y":{"field":"y","type":"quantitative","scale":{"domain":[-35,35],"nice":false},"axis":{"values":[-30,-20,-10,0,10,20,30],"title":"垂直距离/cm"}},"fill":{"field":"g","type":"nominal","legend":null,"scale":{"domain":["t","p","14","16","18","20","22","24","26","28","30","32","34","36","38","40","46"],"range":["#7f50ff","#7f50ff","#1a0dff","#0022dd","#006699","#00a050","#00ee00","#33ff00","#88ff00","#ccff00","#ffff00","#ffcc00","#ffa000","#ff7700","#ff5500","#ff4400","#ff0000"]}}},"layer":[
{"data":{"name":"b"},"transform":[{"window":[{"op":"row_number","as":"o"}]}],"mark":{"type":"line","clip":true,"interpolate":"catmull-rom","stroke":"#b5b5b5","strokeWidth":1},"encoding":{"order":{"field":"o"}}},
{"data":{"name":"b"},"transform":[{"window":[{"op":"row_number","as":"o"}]},{"filter":"indexof(['16','24','32','46'],datum.g)>=0"}],"mark":{"type":"line","clip":true,"interpolate":"catmull-rom","stroke":"#000","strokeWidth":1.3},"encoding":{"order":{"field":"o"},"detail":{"field":"g"},"fill":{"value":null}}},
{"data":{"name":"n"},"transform":[{"window":[{"op":"row_number","as":"o"}]}],"mark":{"type":"line","clip":true,"strokeWidth":2},"encoding":{"order":{"field":"o"},"detail":{"field":"g"},"fill":{"value":null},"stroke":{"condition":{"test":"indexof(datum.g,'k')==0","value":"#000"},"value":"#999"}}},
{"data":{"values":[{"x":7.8,"y":18.2,"g":"14","r":0},{"x":7.8,"y":12.9,"g":"22","r":0},{"x":7.8,"y":7.4,"g":"30","r":0},{"x":28.2,"y":4.7,"g":"14","r":1}]},"mark":{"type":"point","filled":true,"opacity":1,"shape":"M-1,-.55H1V.55H-1Z","size":64,"strokeWidth":0},"encoding":{"angle":{"field":"r","type":"quantitative","scale":{"domain":[0,1],"range":[0,80]},"legend":null}}},
{"data":{"values":[{"x":7.8,"y":18.2,"t":"28","r":0},{"x":7.8,"y":12.9,"t":"33","r":0},{"x":7.8,"y":7.4,"t":"38","r":0},{"x":28.2,"y":4.7,"t":"28","r":1}]},"mark":{"type":"text","fontSize":12,"baseline":"middle"},"encoding":{"text":{"field":"t"},"fill":{"value":"#222"},"angle":{"field":"r","type":"quantitative","scale":{"domain":[0,1],"range":[0,80]},"legend":null}}},
{"data":{"values":[{"x":0,"y":35}]},"mark":{"type":"rule","stroke":"#000","strokeWidth":1},"encoding":{"x":{"value":0},"x2":{"value":216},"fill":{"value":null}}}]},
{"data":{"values":[{"x":0,"y":0}]},"mark":{"type":"point","opacity":0},"encoding":{"x":{"field":"x","type":"quantitative"},"y":{"field":"y","type":"quantitative","scale":{"domain":[-35,35],"nice":false},"axis":{"orient":"right","labels":false,"values":[-30,-20,-10,0,10,20,30],"title":null,"domainColor":"#666"}}}}]},
{"width":216,"height":334,"view":{"fill":"#5a3dff","stroke":null},"title":{"text":"(c) 砂质黏壤土","dx":4},"resolve":{"axis":{"y":"independent"}},"layer":[
{"encoding":{"x":{"field":"x","type":"quantitative","scale":{"domain":[0,45],"nice":false},"axis":{"values":[0,10,20,30,40],"title":"水平距离/cm"}},"y":{"field":"y","type":"quantitative","scale":{"domain":[-35,35],"nice":false},"axis":{"values":[-30,-20,-10,0,10,20,30],"title":"垂直距离/cm"}},"fill":{"field":"g","type":"nominal","legend":null,"scale":{"domain":["t","kt","gb","p","12","14","15","16","18","20","22","24","26","28","30","32","34","36","38","39","40"],"range":["#8850ff","#8850ff","#5a3dff","#8850ff","#4433ff","#2a14ff","#1a0dff","#0022dd","#006699","#00a050","#00ee00","#33ff00","#88ff00","#ccff00","#ffff00","#ffcc00","#ffb000","#ff9000","#ff7700","#ff5500","#ff3300"]}}},"layer":[
{"data":{"name":"c"},"transform":[{"window":[{"op":"row_number","as":"o"}]}],"mark":{"type":"line","clip":true,"interpolate":"catmull-rom","stroke":"#b5b5b5","strokeWidth":1},"encoding":{"order":{"field":"o"}}},
{"data":{"name":"c"},"transform":[{"window":[{"op":"row_number","as":"o"}]},{"filter":"indexof(['kt','16','22','28','34','38'],datum.g)>=0"}],"mark":{"type":"line","clip":true,"interpolate":"catmull-rom","stroke":"#000","strokeWidth":1.3},"encoding":{"order":{"field":"o"},"detail":{"field":"g"},"fill":{"value":null}}},
{"data":{"name":"n"},"transform":[{"window":[{"op":"row_number","as":"o"}]}],"mark":{"type":"line","clip":true,"strokeWidth":2},"encoding":{"order":{"field":"o"},"detail":{"field":"g"},"fill":{"value":null},"stroke":{"condition":{"test":"indexof(datum.g,'k')==0","value":"#000"},"value":"#999"}}},
{"data":{"values":[{"g":"q","x":0,"y":-1.5,"o":0},{"g":"q","x":1,"y":-2.9,"o":1},{"g":"q","x":2.5,"y":-3.3,"o":2},{"g":"q","x":3.5,"y":-2.2,"o":3},{"g":"q","x":5,"y":-1.7,"o":4},{"g":"q","x":4.5,"y":-3,"o":5},{"g":"q","x":6,"y":-2.6,"o":6},{"g":"q","x":7,"y":-1.9,"o":7},{"g":"q","x":5.5,"y":-1.6,"o":8}]},"mark":{"type":"line","clip":true,"interpolate":"catmull-rom","stroke":"#000","strokeWidth":1},"encoding":{"order":{"field":"o"},"fill":{"value":null}}},
{"data":{"values":[{"x":7.9,"y":18.5,"g":"15","r":0},{"x":8.75,"y":15.4,"g":"20","r":0},{"x":7.9,"y":12.5,"g":"26","r":0},{"x":8.8,"y":9.4,"g":"32","r":0},{"x":7.9,"y":5.2,"g":"36","r":0},{"x":29.4,"y":5.6,"g":"15","r":1}]},"mark":{"type":"point","filled":true,"opacity":1,"shape":"M-1,-.55H1V.55H-1Z","size":64,"strokeWidth":0},"encoding":{"angle":{"field":"r","type":"quantitative","scale":{"domain":[0,1],"range":[0,80]},"legend":null}}},
{"data":{"values":[{"x":7.9,"y":18.5,"t":"28","r":0},{"x":8.75,"y":15.4,"t":"30.5","r":0},{"x":7.9,"y":12.5,"t":"33","r":0},{"x":8.8,"y":9.4,"t":"35.5","r":0},{"x":7.9,"y":5.2,"t":"38","r":0},{"x":29.4,"y":5.6,"t":"28","r":1}]},"mark":{"type":"text","fontSize":12,"baseline":"middle"},"encoding":{"text":{"field":"t"},"fill":{"value":"#222"},"angle":{"field":"r","type":"quantitative","scale":{"domain":[0,1],"range":[0,80]},"legend":null}}},
{"data":{"values":[{"x":0,"y":35}]},"mark":{"type":"rule","stroke":"#000","strokeWidth":1},"encoding":{"x":{"value":0},"x2":{"value":216},"fill":{"value":null}}}]},
{"data":{"values":[{"x":0,"y":0}]},"mark":{"type":"point","opacity":0},"encoding":{"x":{"field":"x","type":"quantitative"},"y":{"field":"y","type":"quantitative","scale":{"domain":[-35,35],"nice":false},"axis":{"orient":"right","labels":false,"values":[-30,-20,-10,0,10,20,30],"title":null,"domainColor":"#666"}}}}]},
{"width":216,"height":334,"view":{"fill":"#7048ff","stroke":null},"title":{"text":"(d) 粉土","dx":27},"resolve":{"axis":{"y":"independent"}},"layer":[
{"encoding":{"x":{"field":"x","type":"quantitative","scale":{"domain":[0,45],"nice":false},"axis":{"values":[0,10,20,30,40],"title":"水平距离/cm"}},"y":{"field":"y","type":"quantitative","scale":{"domain":[-35,35],"nice":false},"axis":{"values":[-30,-20,-10,0,10,20,30],"title":"垂直距离/cm","titlePadding":1}},"fill":{"field":"g","type":"nominal","legend":null,"scale":{"domain":["t","p","14","16","18","20","22","24","26","28","30","32","34","36","38","40","42"],"range":["#9966ff","#9966ff","#3a25ff","#0022dd","#006699","#00a050","#00ee00","#33ff00","#88ff00","#ccff00","#ffff00","#ffcc00","#ffa000","#ff7700","#ff5500","#ff4400","#ff2a00"]}}},"layer":[
{"data":{"name":"d"},"transform":[{"window":[{"op":"row_number","as":"o"}]}],"mark":{"type":"line","clip":true,"interpolate":"catmull-rom","stroke":"#b5b5b5","strokeWidth":1},"encoding":{"order":{"field":"o"}}},
{"data":{"name":"d"},"transform":[{"window":[{"op":"row_number","as":"o"}]},{"filter":"indexof(['16','22','28','36'],datum.g)>=0"}],"mark":{"type":"line","clip":true,"interpolate":"catmull-rom","stroke":"#000","strokeWidth":1.3},"encoding":{"order":{"field":"o"},"detail":{"field":"g"},"fill":{"value":null}}},
{"data":{"name":"n"},"transform":[{"window":[{"op":"row_number","as":"o"}]}],"mark":{"type":"line","clip":true,"strokeWidth":2},"encoding":{"order":{"field":"o"},"detail":{"field":"g"},"fill":{"value":null},"stroke":{"condition":{"test":"indexof(datum.g,'k')==0","value":"#000"},"value":"#999"}}},
{"data":{"values":[{"x":7.8,"y":14.7,"g":"14"},{"x":7.8,"y":12.6,"g":"20"},{"x":7.8,"y":10.3,"g":"26"},{"x":7.8,"y":7.1,"g":"34"}]},"mark":{"type":"point","filled":true,"opacity":1,"shape":"M-1,-.55H1V.55H-1Z","size":36,"strokeWidth":0}},
{"data":{"values":[{"x":7.8,"y":14.7,"t":"28"},{"x":7.8,"y":12.6,"t":"33"},{"x":7.8,"y":10.3,"t":"38"},{"x":7.8,"y":7.1,"t":"43"}]},"mark":{"type":"text","fontSize":10,"baseline":"middle"},"encoding":{"text":{"field":"t"},"fill":{"value":"#222"}}},
{"data":{"values":[{"x":0,"y":35}]},"mark":{"type":"rule","stroke":"#000","strokeWidth":1},"encoding":{"x":{"value":0},"x2":{"value":216},"fill":{"value":null}}}]},
{"data":{"values":[{"x":0,"y":0}]},"mark":{"type":"point","opacity":0},"encoding":{"x":{"field":"x","type":"quantitative"},"y":{"field":"y","type":"quantitative","scale":{"domain":[-35,35],"nice":false},"axis":{"orient":"right","labels":false,"values":[-30,-20,-10,0,10,20,30],"title":null,"domainColor":"#666"}}}}]}
]},
{"width":23,"height":366,"view":{"stroke":null},"data":{"values":[{"lo":8,"hi":10},{"lo":10,"hi":12},{"lo":12,"hi":14},{"lo":14,"hi":16},{"lo":16,"hi":18},{"lo":18,"hi":20},{"lo":20,"hi":22},{"lo":22,"hi":24},{"lo":24,"hi":26},{"lo":26,"hi":28},{"lo":28,"hi":30},{"lo":30,"hi":32},{"lo":32,"hi":34},{"lo":34,"hi":36},{"lo":36,"hi":38},{"lo":38,"hi":40},{"lo":40,"hi":42},{"lo":42,"hi":44},{"lo":44,"hi":46},{"lo":46,"hi":48},{"lo":48,"hi":50}]},"layer":[
{"mark":{"type":"rect","stroke":"#222","strokeWidth":1},"encoding":{"y":{"field":"lo","type":"quantitative","scale":{"domain":[8,53.48],"nice":false},"axis":null},"y2":{"field":"hi"},"fill":{"field":"lo","type":"nominal","legend":null,"scale":{"domain":[8,10,12,14,16,18,20,22,24,26,28,30,32,34,36,38,40,42,44,46,48],"range":["#9966ff","#7a4dff","#4433ff","#1a0dff","#0022dd","#006699","#00a050","#00ee00","#33ff00","#88ff00","#ccff00","#ffff00","#ffcc00","#ffa000","#ff7700","#ff5500","#ff4400","#ff2a00","#ff0d00","#ff0000","#ff0000"]}}}},
{"mark":{"type":"text","fontSize":14,"align":"left","baseline":"middle","fill":"#222","font":"Liberation Serif"},"encoding":{"y":{"field":"lo","type":"quantitative"},"x":{"value":26},"text":{"field":"lo","type":"quantitative"}}},
{"data":{"values":[{"t":"含水率/%","y":52.7}]},"mark":{"type":"text","fontSize":16,"dx":7,"fill":"#333"},"encoding":{"text":{"field":"t"},"y":{"field":"y","type":"quantitative"},"x":{"value":11.5}}}]}
]}
